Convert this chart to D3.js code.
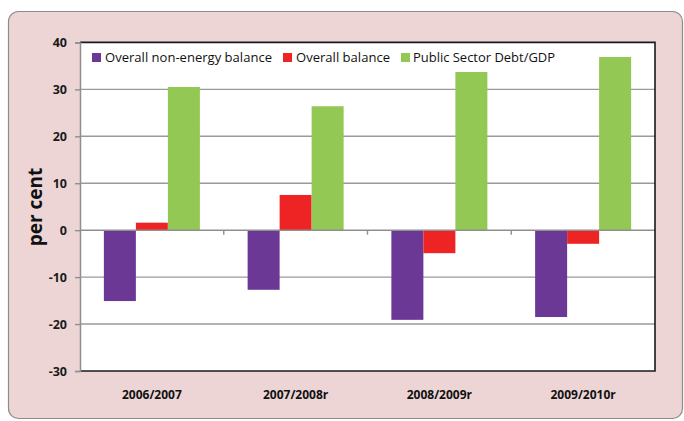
<!DOCTYPE html>
<html>
<head>
<meta charset="utf-8">
<script src="https://cdn.jsdelivr.net/npm/d3@7"></script>
<style>
  html, body { margin: 0; padding: 0; background: #ffffff; }
  svg { display: block; }
  text { font-family: "Open Sans", "DejaVu Sans", sans-serif; }
</style>
</head>
<body>
<svg id="chart" width="684" height="421"></svg>
<script>
// Fiscal indicators by year, per cent
const categories = ["2006/2007", "2007/2008r", "2008/2009r", "2009/2010r"];
const seriesNames = ["Overall non-energy balance", "Overall balance", "Public Sector Debt/GDP"];
const nonEnergyBalance = [-15.1, -12.7, -19.1, -18.5];
const overallBalance = [1.6, 7.5, -4.9, -2.9];
const debtToGdp = [30.5, 26.4, 33.7, 36.9];
const yTicks = [-30, -20, -10, 0, 10, 20, 30, 40];

const colors = ["#6c3895", "#ee2324", "#92c853"];
const seriesValues = [nonEnergyBalance, overallBalance, debtToGdp];

const svg = d3.select("#chart");

// outer panel
svg.append("rect")
  .attr("x", 8.5).attr("y", 11.5)
  .attr("width", 674).attr("height", 407)
  .attr("rx", 10).attr("ry", 10)
  .attr("fill", "#edd5d6")
  .attr("stroke", "#8c8c8c")
  .attr("stroke-width", 1.2);

const plot = { left: 80, right: 655, top: 42.4, bottom: 371 };

const y = d3.scaleLinear().domain([-30, 40]).range([plot.bottom, plot.top]);
const x0 = d3.scaleBand().domain(categories).range([plot.left, plot.right]).padding(0);
const barW = 32;
const x1 = d3.scaleBand().domain(seriesNames).range([0, barW * 3]).padding(0);

// plot background
svg.append("rect")
  .attr("x", plot.left).attr("y", plot.top)
  .attr("width", plot.right - plot.left).attr("height", plot.bottom - plot.top)
  .attr("fill", "#ffffff");

// gridlines
svg.append("g")
  .selectAll("line")
  .data(yTicks.filter(d => d !== 0 && d !== -30 && d !== 40))
  .join("line")
  .attr("x1", plot.left).attr("x2", plot.right)
  .attr("y1", d => y(d)).attr("y2", d => y(d))
  .attr("stroke", "#9a9a9a")
  .attr("stroke-width", 1.4);

// bars
const groups = svg.append("g")
  .selectAll("g")
  .data(categories)
  .join("g")
  .attr("transform", d => `translate(${x0(d) + (x0.bandwidth() - barW * 3) / 2},0)`);

groups.selectAll("rect")
  .data((c, i) => seriesNames.map((s, j) => ({ s, j, v: seriesValues[j][i] })))
  .join("rect")
  .attr("x", d => x1(d.s))
  .attr("width", x1.bandwidth())
  .attr("y", d => y(Math.max(0, d.v)))
  .attr("height", d => Math.abs(y(d.v) - y(0)))
  .attr("fill", d => colors[d.j]);

// zero line with category tick marks
svg.append("line")
  .attr("x1", plot.left).attr("x2", plot.right)
  .attr("y1", y(0)).attr("y2", y(0))
  .attr("stroke", "#8f8f8f").attr("stroke-width", 1.5);

svg.append("g")
  .selectAll("line")
  .data(categories.slice(1))
  .join("line")
  .attr("x1", d => x0(d)).attr("x2", d => x0(d))
  .attr("y1", y(0)).attr("y2", y(0) + 4.5)
  .attr("stroke", "#8f8f8f").attr("stroke-width", 1.4);

// plot frame: dark top, right and bottom edges
svg.append("path")
  .attr("d", `M${plot.left},${plot.top}H${plot.right}V${plot.bottom}H${plot.left}`)
  .attr("fill", "none")
  .attr("stroke", "#1a1a1a")
  .attr("stroke-width", 1.6);

// y axis (plain hyphen for negative numbers)
const yAxis = d3.axisLeft(y)
  .tickValues(yTicks)
  .tickSize(5)
  .tickPadding(8)
  .tickFormat(d => String(d));

const yg = svg.append("g")
  .attr("transform", `translate(${plot.left},0)`)
  .call(yAxis);
yg.select(".domain").attr("stroke", "#8f8f8f").attr("stroke-width", 1.5);
yg.selectAll(".tick line").attr("stroke", "#8f8f8f").attr("stroke-width", 1.4);
yg.selectAll(".tick text")
  .attr("fill", "#1a1a1a")
  .style("font-size", "12.5px")
  .style("font-weight", "bold")
  .style("font-family", "'Open Sans', sans-serif");

// y axis title
svg.append("text")
  .attr("transform", `translate(42,207) rotate(-90)`)
  .attr("text-anchor", "middle")
  .style("font-size", "19px")
  .style("font-weight", "bold")
  .attr("fill", "#111")
  .text("per cent");

// category labels
svg.append("g")
  .selectAll("text")
  .data(categories)
  .join("text")
  .attr("x", d => x0(d) + x0.bandwidth() / 2)
  .attr("y", 399)
  .attr("text-anchor", "middle")
  .style("font-size", "12px")
  .style("font-weight", "bold")
  .attr("fill", "#111")
  .text(d => d);

// legend
const legendItems = [
  { name: seriesNames[0], sx: 92, tx: 105, w: 167 },
  { name: seriesNames[1], sx: 283, tx: 296, w: 94 },
  { name: seriesNames[2], sx: 401, tx: 413, w: 142 }
];
const lg = svg.append("g");
lg.selectAll("rect")
  .data(legendItems)
  .join("rect")
  .attr("x", d => d.sx).attr("y", 53)
  .attr("width", 9).attr("height", 9)
  .attr("fill", (d, i) => colors[i]);
lg.selectAll("text")
  .data(legendItems)
  .join("text")
  .attr("x", d => d.tx).attr("y", 62)
  .attr("textLength", d => d.w)
  .attr("lengthAdjust", "spacingAndGlyphs")
  .style("font-size", "13px")
  .attr("fill", "#111")
  .text(d => d.name);
</script>
</body>
</html>
